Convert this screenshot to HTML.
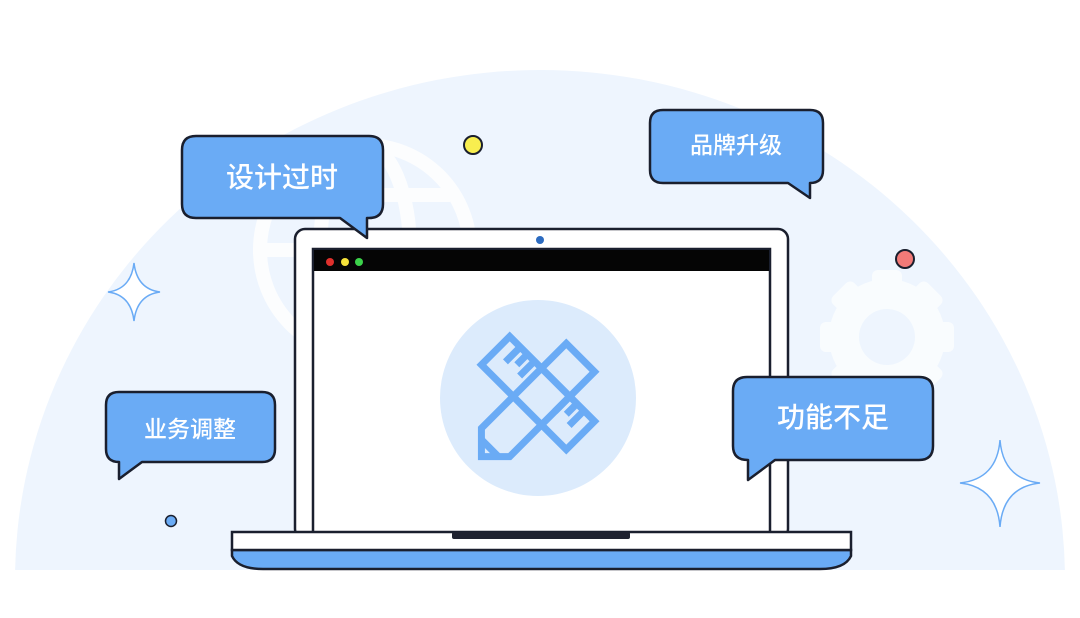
<!DOCTYPE html>
<html><head><meta charset="utf-8"><style>
html,body{margin:0;padding:0;background:#fff;width:1080px;height:618px;overflow:hidden;position:relative;}
svg{display:block;position:absolute;left:0;top:0;}
text{font-family:"Liberation Sans","Noto Sans CJK SC",sans-serif;fill:#fff;text-anchor:middle;font-weight:500;}
</style></head><body>
<svg width="1080" height="618" viewBox="0 0 1080 618" xmlns="http://www.w3.org/2000/svg">
<defs><clipPath id="c"><rect x="0" y="0" width="1080" height="570"/></clipPath></defs>
<rect width="1080" height="618" fill="#fff"/>
<ellipse cx="540" cy="580" rx="525" ry="510" fill="#eef5fe" clip-path="url(#c)"/>
<g fill="none" stroke="#fff" stroke-width="14" opacity="0.85">
<circle cx="365" cy="250" r="105"/>
<ellipse cx="365" cy="250" rx="45" ry="105"/>
<line x1="260" y1="250" x2="470" y2="250"/>
<line x1="280" y1="195" x2="450" y2="195"/>
</g>
<g fill="#fff" opacity="0.7">
<circle cx="887" cy="337" r="58"/>
<rect x="872" y="270" width="30" height="134" rx="6"/>
<rect x="820" y="322" width="134" height="30" rx="6"/>
<rect x="872" y="270" width="30" height="134" rx="6" transform="rotate(45 887 337)"/>
<rect x="872" y="270" width="30" height="134" rx="6" transform="rotate(-45 887 337)"/>
</g>
<circle cx="887" cy="337" r="28" fill="#eef5fe"/>
<path d="M134 263 Q137 289 160 292 Q137 295 134 321 Q131 295 108 292 Q131 289 134 263Z" fill="#fff" stroke="#6aabf5" stroke-width="1.5"/>
<path d="M1000 440 Q1003 479 1040 483 Q1003 487 1000 527 Q997 487 960 483 Q997 479 1000 440Z" fill="#fff" stroke="#6aabf5" stroke-width="1.5"/>
<circle cx="473" cy="145" r="9" fill="#f8ee4f" stroke="#1a1f2e" stroke-width="2"/>
<circle cx="905" cy="259" r="9" fill="#f27a78" stroke="#1a1f2e" stroke-width="2"/>
<circle cx="171" cy="521" r="5.5" fill="#6aabf5" stroke="#1a1f2e" stroke-width="1.5"/>
<rect x="295" y="229" width="493" height="310" rx="10" fill="#fff" stroke="#1a1f2e" stroke-width="2.5"/>
<rect x="313" y="249" width="457" height="290" fill="#fff" stroke="#1a1f2e" stroke-width="2.5"/>
<rect x="314" y="250" width="455" height="21" fill="#050505"/>
<circle cx="330" cy="262" r="4" fill="#e0302c"/>
<circle cx="345" cy="262" r="4" fill="#f6e23a"/>
<circle cx="359" cy="262" r="4" fill="#3bd24a"/>
<circle cx="540" cy="240" r="4" fill="#2c6bc0"/>
<circle cx="538" cy="398" r="98" fill="#dcebfc"/>
<g fill="none" stroke="#6aabf5" stroke-width="7" stroke-linejoin="miter">
<g transform="rotate(45 538 393)">
<rect x="478" y="373" width="120" height="40"/>
<path d="M493 376v18M503 376v12M513 376v18M563 376v18M573 376v12M583 376v18"/>
</g>
<g transform="rotate(-45 538 400)">
<path d="M478 380 L598 380 L598 420 L478 420 L458 400 Z"/>
<path d="M470 388 L470 412"/>
</g>
</g>
<path d="M232 550 L851 550 L851 556 Q845 569 820 569 L263 569 Q238 569 232 556 Z" fill="#6aabf5" stroke="#1a1f2e" stroke-width="2.5"/>
<rect x="232" y="532" width="619" height="18" fill="#fff" stroke="#1a1f2e" stroke-width="2.5"/>
<rect x="452" y="532" width="178" height="7" rx="2" fill="#1f2230"/>
<g fill="#6aabf5" stroke="#1a1f2e" stroke-width="2.5" stroke-linejoin="round">
<path d="M196 136 H369 Q383 136 383 150 V204 Q383 218 369 218 H367 V238 L340 218 H196 Q182 218 182 204 V150 Q182 136 196 136Z"/>
<path d="M663 110 H810 Q823 110 823 123 V170 Q823 183 810 183 V198 L788 183 H663 Q650 183 650 170 V123 Q650 110 663 110Z"/>
<path d="M119 392 H262 Q275 392 275 405 V449 Q275 462 262 462 H142 L119 479 V462 Q106 462 106 449 V405 Q106 392 119 392Z"/>
<path d="M747 377 H919 Q933 377 933 391 V446 Q933 460 919 460 H775 L748 480 V460 Q733 460 733 446 V391 Q733 377 747 377Z"/>
</g>
<text x="282" y="187" font-size="28">设计过时</text>
<text x="736" y="153" font-size="23">品牌升级</text>
<text x="190" y="437" font-size="23">业务调整</text>
<text x="833" y="427" font-size="28">功能不足</text>
</svg>
</body></html>
